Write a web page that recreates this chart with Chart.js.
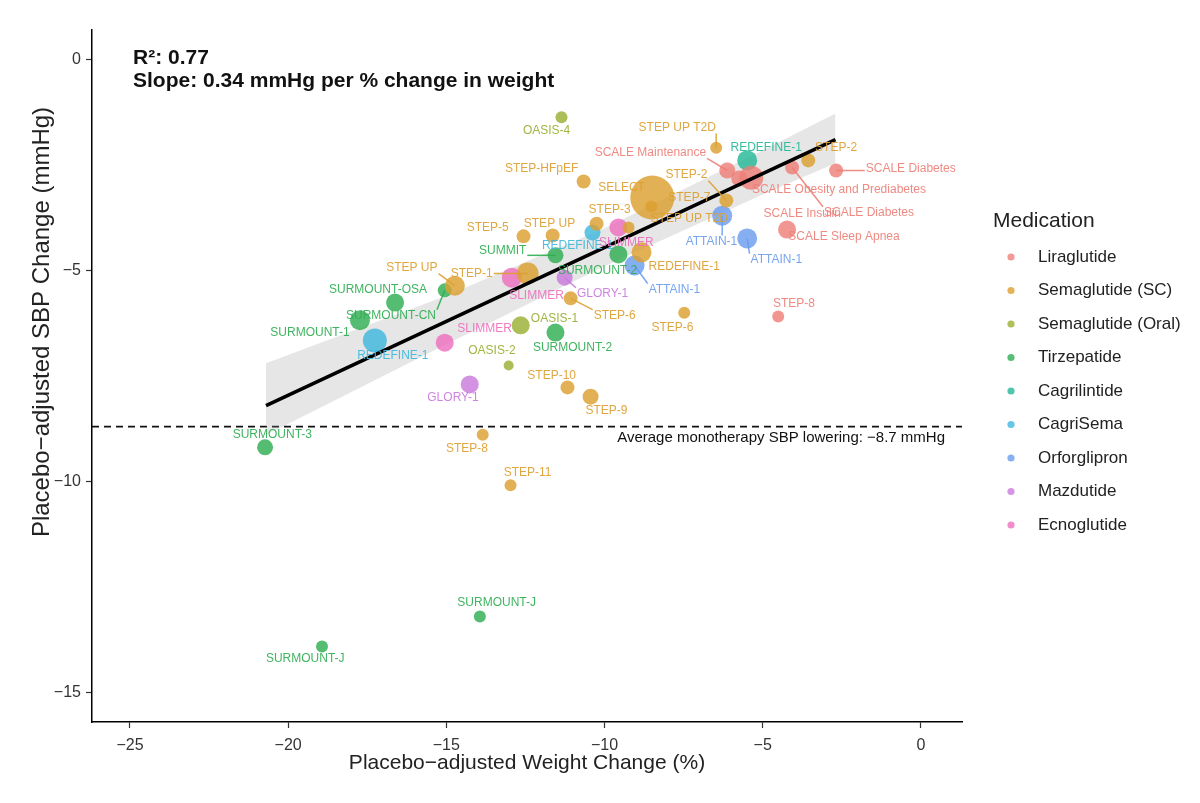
<!DOCTYPE html>
<html lang="en">
<head>
<meta charset="UTF-8">
<title>Placebo-adjusted SBP change vs weight change</title>
<style>
  html, body { margin: 0; padding: 0; background: #fff; }
  #wrap { width: 1200px; height: 803px; }
</style>
<script src="https://cdn.jsdelivr.net/npm/chart.js"></script>
</head>
<body>
<div id="wrap"><canvas id="chart" width="1200" height="803"></canvas></div>
<script>
// medications (legend order) and the colours they show in the figure
const medications = ['Liraglutide', 'Semaglutide (SC)', 'Semaglutide (Oral)', 'Tirzepatide',
  'Cagrilintide', 'CagriSema', 'Orforglipron', 'Mazdutide', 'Ecnoglutide'];
const medColors = ['#EE7F77', '#DDA030', '#98B033', '#2FAE52', '#25B898', '#40B8DE', '#6A9DEE', '#CA7ADC', '#EE70BE'];

// one entry per trial arm
const trials = [
  'SCALE Maintenance', 'SCALE Obesity and Prediabetes', 'SCALE Diabetes', 'SCALE Diabetes', 'SCALE Insulin', 'SCALE Sleep Apnea', 'STEP-8',
  'STEP-HFpEF', 'SELECT', 'STEP-7', 'STEP UP T2D', 'STEP-2', 'STEP-2', 'STEP UP T2D', 'STEP-3', 'STEP-5', 'STEP UP', 'REDEFINE-1',
  'STEP-1', 'STEP UP', 'STEP-6', 'STEP-6', 'STEP-10', 'STEP-9', 'STEP-8', 'STEP-11',
  'OASIS-4', 'OASIS-1', 'OASIS-2',
  'SUMMIT', 'SURMOUNT-2', 'SURMOUNT-OSA', 'SURMOUNT-CN', 'SURMOUNT-1', 'SURMOUNT-2', 'SURMOUNT-3', 'SURMOUNT-J', 'SURMOUNT-J',
  'REDEFINE-1',
  'REDEFINE-1', 'REDEFINE-1',
  'ATTAIN-1', 'ATTAIN-1', 'ATTAIN-1',
  'GLORY-1', 'GLORY-1',
  'SLIMMER', 'SLIMMER', 'SLIMMER'
];
const trialDrug = [
  0, 0, 0, 0, 0, 0, 0,
  1, 1, 1, 1, 1, 1, 1, 1, 1, 1, 1, 1, 1, 1, 1, 1, 1, 1, 1,
  2, 2, 2,
  3, 3, 3, 3, 3, 3, 3, 3, 3,
  4,
  5, 5,
  6, 6, 6,
  7, 7,
  8, 8, 8
];
// placebo-adjusted weight change (%)
const weightChange = [
  -6.12, -5.36, -4.07, -2.68, -5.74, -4.23, -4.51,
  -10.66, -8.49, -8.52, -6.47, -6.15, -3.56, -9.24, -10.25, -12.56, -11.64, -8.83,
  -12.43, -14.73, -11.07, -7.48, -11.17, -10.44, -13.85, -12.97,
  -11.36, -12.65, -13.03,
  -11.55, -9.56, -16.62, -15.05, -17.73, -11.55, -20.73, -13.94, -18.93,
  -5.49,
  -10.38, -17.26,
  -6.28, -5.49, -9.05,
  -11.26, -14.26,
  -9.56, -12.93, -15.05
];
// placebo-adjusted SBP change (mmHg)
const sbpChange = [
  -2.63, -2.80, -2.56, -2.63, -2.82, -4.03, -6.09,
  -2.89, -3.27, -3.48, -2.09, -3.34, -2.39, -3.98, -3.89, -4.19, -4.17, -4.57,
  -5.07, -5.36, -5.66, -6.00, -7.77, -7.99, -8.89, -10.09,
  -1.37, -6.30, -7.25,
  -4.64, -4.62, -5.76, -5.47, -6.18, -6.47, -9.19, -13.20, -13.91,
  -2.39,
  -4.10, -6.66,
  -3.70, -4.24, -4.88,
  -5.17, -7.70,
  -3.98, -5.17, -6.71
];
// bubble size (trial size)
const trialSize = [
  8, 12, 7, 7, 8, 9, 6,
  7, 22, 6, 6, 7, 7, 6, 7, 7, 7, 10,
  11, 10, 7, 6, 7, 8, 6, 6,
  6, 9, 5,
  8, 9, 9, 7, 10, 9, 8, 6, 6,
  10,
  8, 12,
  10, 10, 10,
  8, 9,
  9, 10, 9
];

// where each trial label sits (same units as the axes)
const labelWeight = [
  -8.55, -2.59, -1.64, -0.32, -3.75, -2.43, -4.01,
  -11.99, -9.46, -7.32, -7.70, -7.41, -2.68, -7.32, -9.84, -13.69, -11.74, -7.48,
  -14.20, -16.09, -9.68, -7.85, -11.67, -9.94, -14.35, -12.43,
  -11.83, -11.58, -13.56,
  -13.22, -10.22, -17.16, -16.75, -19.31, -11.01, -20.50, -13.41, -19.46,
  -4.89,
  -10.85, -16.69,
  -6.62, -4.57, -7.79,
  -10.06, -14.79,
  -9.31, -12.15, -13.79
];
const labelSbp = [
  -2.20, -3.08, -3.63, -2.58, -3.65, -4.19, -5.78,
  -2.58, -3.03, -3.27, -1.61, -2.73, -2.09, -3.77, -3.55, -3.98, -3.89, -4.91,
  -5.07, -4.93, -6.07, -6.35, -7.49, -8.32, -9.22, -9.79,
  -1.68, -6.14, -6.90,
  -4.53, -5.00, -5.45, -6.07, -6.47, -6.82, -8.89, -12.87, -14.19,
  -2.09,
  -4.41, -7.01,
  -4.31, -4.74, -5.45,
  -5.55, -8.01,
  -4.34, -5.59, -6.37
];
// labels joined to their point by a segment
const leaderLines = [0, 2, 3, 10, 11, 18, 19, 20, 29, 32, 41, 42, 43, 44];

// regression fit and its confidence band
const fitWeight = [-20.7, -2.7];
const fitSbp = [-8.2, -1.9];
const bandWeight = [-20.7, -15, -10, -5, -2.7];
const bandUpper = [-7.2, -5.6, -4.0, -2.15, -1.28];
const bandLower = [-8.9, -6.75, -4.9, -3.2, -2.46];

const avgLowering = -8.7;
const xTicks = [-25, -20, -15, -10, -5, 0];
const yTicks = [0, -5, -10, -15];

const FONT = '"Liberation Sans", Arial, Helvetica, sans-serif';
Chart.defaults.font.family = FONT;

function rgba(hex, a) {
  const n = parseInt(hex.slice(1), 16);
  return `rgba(${n >> 16}, ${(n >> 8) & 255}, ${n & 255}, ${a})`;
}
function fmt(v) {
  return v < 0 ? '\u2212' + Math.abs(v) : String(v);
}

const bubbleSets = medications.map((m, k) => ({
  type: 'bubble',
  label: m,
  order: 1,
  data: trials.map((t, i) => i).filter(i => trialDrug[i] === k)
    .map(i => ({ x: weightChange[i], y: sbpChange[i], r: trialSize[i] })),
  backgroundColor: rgba(medColors[k], 0.82),
  borderWidth: 0,
  hoverBorderWidth: 0
}));

const overlay = {
  id: 'overlay',
  beforeDatasetsDraw(chart) {
    const { ctx, chartArea: a, scales: { y } } = chart;
    const yp = y.getPixelForValue(avgLowering);
    ctx.save();
    ctx.strokeStyle = '#111';
    ctx.lineWidth = 1.6;
    ctx.setLineDash([7, 5]);
    ctx.beginPath();
    ctx.moveTo(a.left, yp);
    ctx.lineTo(a.right, yp);
    ctx.stroke();
    ctx.restore();
  },
  afterDatasetsDraw(chart) {
    const { ctx, scales: { x, y } } = chart;
    ctx.save();
    ctx.font = '12px ' + FONT;
    ctx.textAlign = 'center';
    ctx.textBaseline = 'middle';
    // leader segments
    leaderLines.forEach(i => {
      const col = medColors[trialDrug[i]];
      const px = x.getPixelForValue(weightChange[i]), py = y.getPixelForValue(sbpChange[i]);
      const lx = x.getPixelForValue(labelWeight[i]), ly = y.getPixelForValue(labelSbp[i]);
      const hw = ctx.measureText(trials[i]).width / 2 + 1, hh = 6;
      const cx = Math.max(lx - hw, Math.min(px, lx + hw));
      const cy = Math.max(ly - hh, Math.min(py, ly + hh));
      ctx.strokeStyle = rgba(col, 0.9);
      ctx.lineWidth = 1.5;
      ctx.beginPath();
      ctx.moveTo(px, py);
      ctx.lineTo(cx, cy);
      ctx.stroke();
    });
    trials.forEach((name, i) => {
      ctx.fillStyle = rgba(medColors[trialDrug[i]], 0.92);
      ctx.fillText(name, x.getPixelForValue(labelWeight[i]), y.getPixelForValue(labelSbp[i]));
    });
    ctx.restore();
  },
  afterDraw(chart) {
    const { ctx, chartArea: a, scales: { y } } = chart;
    ctx.save();
    // average line caption
    ctx.fillStyle = '#111';
    ctx.font = '15px ' + FONT;
    ctx.textAlign = 'right';
    ctx.textBaseline = 'middle';
    ctx.fillText('Average monotherapy SBP lowering: \u22128.7 mmHg', a.right - 17, y.getPixelForValue(avgLowering) + 11);

    // fit statistics
    ctx.font = 'bold 21px ' + FONT;
    ctx.textAlign = 'left';
    ctx.fillText('R\u00b2: 0.77', a.left + 41, 58);
    ctx.fillText('Slope: 0.34 mmHg per % change in weight', a.left + 41, 81);

    // axis titles
    ctx.fillStyle = '#222';
    ctx.font = '21px ' + FONT;
    ctx.textAlign = 'center';
    ctx.fillText('Placebo\u2212adjusted Weight Change (%)', (a.left + a.right) / 2, 763);
    ctx.save();
    ctx.translate(42, 322);
    ctx.rotate(-Math.PI / 2);
    ctx.font = '24px ' + FONT;
    ctx.fillText('Placebo\u2212adjusted SBP Change (mmHg)', 0, 0);
    ctx.restore();

    // legend
    ctx.textAlign = 'left';
    ctx.font = '21px ' + FONT;
    ctx.fillText('Medication', 993, 221);
    ctx.font = '17px ' + FONT;
    medications.forEach((m, k) => {
      const yy = 257 + k * 33.5;
      ctx.fillStyle = rgba(medColors[k], 0.8);
      ctx.beginPath();
      ctx.arc(1011, yy, 3.6, 0, Math.PI * 2);
      ctx.fill();
      ctx.fillStyle = '#222';
      ctx.fillText(m, 1038, yy);
    });
    ctx.restore();
  }
};

new Chart(document.getElementById('chart'), {
  type: 'bubble',
  data: {
    datasets: [
      {
        type: 'line',
        label: 'fit',
        order: 0,
        data: fitWeight.map((w, i) => ({ x: w, y: fitSbp[i] })),
        borderColor: '#000',
        borderWidth: 3.6,
        pointRadius: 0,
        fill: false
      },
      ...bubbleSets,
      {
        type: 'line',
        label: 'band upper',
        order: 2,
        data: bandWeight.map((w, i) => ({ x: w, y: bandUpper[i] })),
        borderWidth: 0,
        pointRadius: 0,
        backgroundColor: 'rgba(150,150,150,0.24)',
        fill: '+1'
      },
      {
        type: 'line',
        label: 'band lower',
        order: 2,
        data: bandWeight.map((w, i) => ({ x: w, y: bandLower[i] })),
        borderWidth: 0,
        pointRadius: 0,
        fill: false
      }
    ]
  },
  options: {
    responsive: false,
    animation: false,
    events: [],
    layout: { padding: { top: 30, right: 238, left: 0, bottom: 0 } },
    plugins: {
      legend: { display: false },
      tooltip: { enabled: false }
    },
    scales: {
      x: {
        type: 'linear',
        min: -26.2,
        max: 1.3,
        afterBuildTicks: s => { s.ticks = xTicks.map(v => ({ value: v })); },
        afterFit: s => { s.height = 81; },
        border: { display: true, color: '#000', width: 1.5 },
        grid: { drawOnChartArea: false, drawTicks: true, tickLength: 6, tickColor: '#333', tickWidth: 1.2 },
        ticks: { color: '#333', font: { size: 16 }, padding: 8, maxRotation: 0, callback: fmt }
      },
      y: {
        type: 'linear',
        min: -15.7,
        max: 0.7,
        afterBuildTicks: s => { s.ticks = yTicks.map(v => ({ value: v })); },
        afterFit: s => { s.width = 92; },
        border: { display: true, color: '#000', width: 1.5 },
        grid: { drawOnChartArea: false, drawTicks: true, tickLength: 6, tickColor: '#333', tickWidth: 1.2 },
        ticks: { color: '#333', font: { size: 16 }, padding: 5, callback: fmt }
      }
    }
  },
  plugins: [overlay]
});
</script>
</body>
</html>
